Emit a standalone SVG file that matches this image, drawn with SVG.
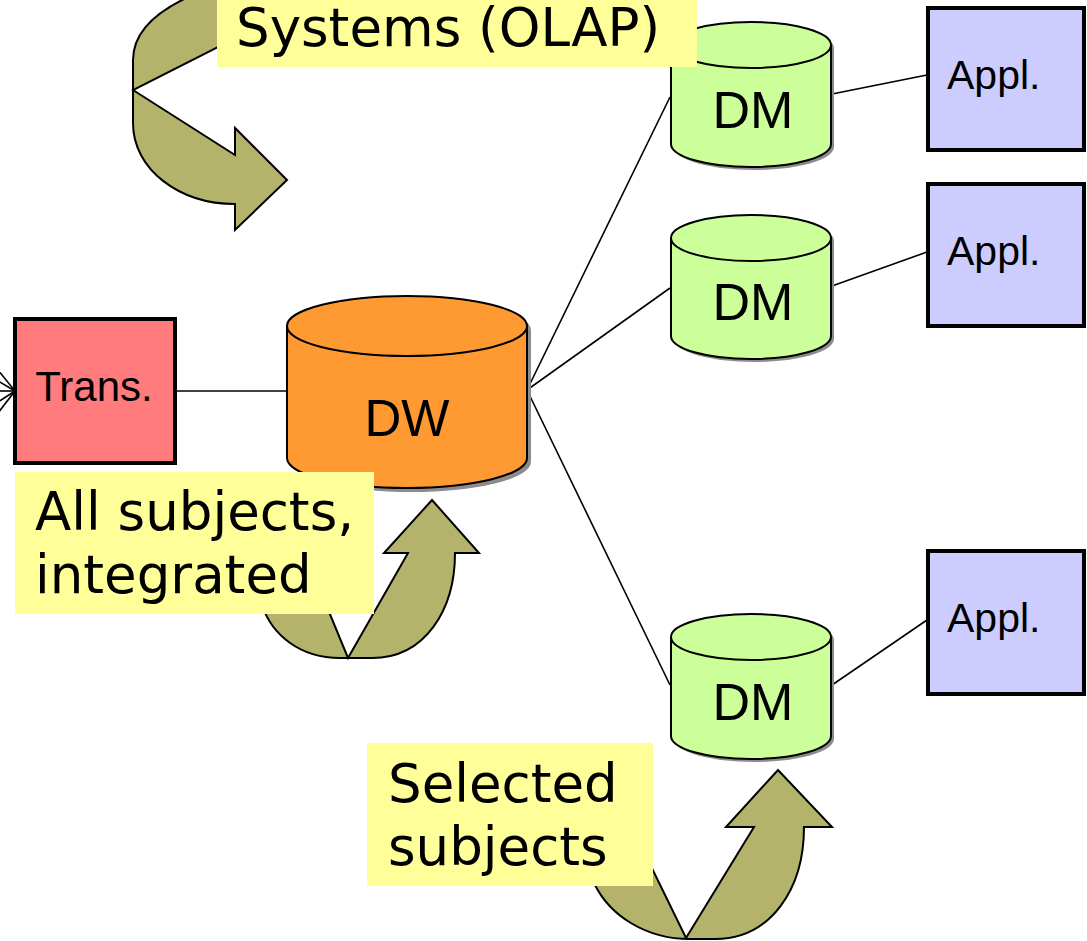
<svg xmlns="http://www.w3.org/2000/svg" width="1087" height="941" viewBox="0 0 1087 941">
<style>
.arrow{fill:#b3b36c;stroke:#000;stroke-width:2;stroke-linejoin:miter}
.box{stroke:#000;stroke-width:4}
.cyl{stroke:#000;stroke-width:2}
.shadow{fill:#8c8c8c;stroke:none}
.conn{stroke:#000;stroke-width:1.6;fill:none}
.ntext{font-family:"Liberation Sans",Arial,sans-serif;fill:#000}
.lbg{fill:#ffff99}
.ltext{font-family:"DejaVu Sans",sans-serif;font-size:53px;fill:#000}
</style>
<rect width="1087" height="941" fill="#fff"/>
<g id="arrows">
  <path class="arrow" d="M133,90 L235,155 L235,128 L287,180 L235,230 L235,204 C180,204 133,170 133,123 L133,60 C133,30 160,8 200,-8 L240,-8 L240,36 Z"/>
  <path class="arrow" d="M348,658 L408,553 L384,553 L432,500 L479,553 L455,553 C455,610 425,658 372,658 L340,658 C300,658 272,635 262,605 L256,585 L318,585 Z"/>
  <path class="arrow" d="M686,938 L754,827 L726,827 L778,770 L832,827 L804,827 C804,890 770,939 715,939 L690,939 C645,939 610,915 595,885 L590,870 L648,860 Z"/>
</g>
<g id="connectors">
  <line class="conn" x1="-2" y1="370" x2="15" y2="391"/>
  <line class="conn" x1="-2" y1="381" x2="15" y2="391"/>
  <line class="conn" x1="-2" y1="391" x2="15" y2="391"/>
  <line class="conn" x1="-2" y1="402" x2="15" y2="391"/>
  <line class="conn" x1="-2" y1="413" x2="15" y2="391"/>
  <line class="conn" x1="177" y1="391" x2="287" y2="391"/>
  <line class="conn" x1="527" y1="390" x2="670" y2="97"/>
  <line class="conn" x1="527" y1="390" x2="670" y2="288"/>
  <line class="conn" x1="527" y1="390" x2="670" y2="685"/>
  <line class="conn" x1="832" y1="94" x2="927" y2="75"/>
  <line class="conn" x1="832" y1="286" x2="927" y2="252"/>
  <line class="conn" x1="832" y1="685" x2="927" y2="620"/>
</g>
<g id="trans">
  <rect class="box" x="15" y="319" width="160" height="144" fill="#ff7b7d"/>
  <text class="ntext" x="94" y="401" font-size="42" text-anchor="middle">Trans.</text>
</g>
<g id="dw">
  <path class="shadow" d="M291,330 A120,30 0 0 1 531,330 L531,462 A120,30 0 0 1 291,462 Z"/>
  <path class="cyl" fill="#ff9a33" d="M287,326 A120,30 0 0 1 527,326 L527,458 A120,30 0 0 1 287,458 Z"/>
  <path class="cyl" fill="none" d="M287,326 A120,30 0 0 0 527,326"/>
  <text class="ntext" x="407" y="436" font-size="51" text-anchor="middle">DW</text>
</g>
<g id="dm1">
  <path class="shadow" d="M674,48 A80,23 0 0 1 834,48 L834,147 A80,23 0 0 1 674,147 Z"/>
  <path class="cyl" fill="#ccff99" d="M671,45 A80,23 0 0 1 831,45 L831,144 A80,23 0 0 1 671,144 Z"/>
  <path class="cyl" fill="none" d="M671,45 A80,23 0 0 0 831,45"/>
  <text class="ntext" x="753" y="128" font-size="52" text-anchor="middle">DM</text>
</g>
<g id="dm2">
  <path class="shadow" d="M674,241 A80,23 0 0 1 834,241 L834,339 A80,23 0 0 1 674,339 Z"/>
  <path class="cyl" fill="#ccff99" d="M671,238 A80,23 0 0 1 831,238 L831,336 A80,23 0 0 1 671,336 Z"/>
  <path class="cyl" fill="none" d="M671,238 A80,23 0 0 0 831,238"/>
  <text class="ntext" x="753" y="320" font-size="52" text-anchor="middle">DM</text>
</g>
<g id="dm3">
  <path class="shadow" d="M674,640 A80,23 0 0 1 834,640 L834,739 A80,23 0 0 1 674,739 Z"/>
  <path class="cyl" fill="#ccff99" d="M671,637 A80,23 0 0 1 831,637 L831,736 A80,23 0 0 1 671,736 Z"/>
  <path class="cyl" fill="none" d="M671,637 A80,23 0 0 0 831,637"/>
  <text class="ntext" x="753" y="720" font-size="52" text-anchor="middle">DM</text>
</g>
<g id="appl1">
  <rect class="box" x="928" y="8" width="156" height="142" fill="#ccccff"/>
  <text class="ntext" x="947" y="89" font-size="41">Appl.</text>
</g>
<g id="appl2">
  <rect class="box" x="928" y="184" width="156" height="142" fill="#ccccff"/>
  <text class="ntext" x="947" y="265" font-size="41">Appl.</text>
</g>
<g id="appl3">
  <rect class="box" x="928" y="551" width="156" height="143" fill="#ccccff"/>
  <text class="ntext" x="947" y="632" font-size="41">Appl.</text>
</g>
<g id="label-olap">
  <rect class="lbg" x="217" y="-5" width="480" height="72"/>
  <text class="ltext" x="236" y="46">Systems (OLAP)</text>
</g>
<g id="label-all">
  <rect class="lbg" x="15" y="472" width="359" height="142"/>
  <text class="ltext" x="35" y="530">All subjects,</text>
  <text class="ltext" x="35" y="593">integrated</text>
</g>
<g id="label-selected">
  <rect class="lbg" x="367" y="743" width="286" height="143"/>
  <text class="ltext" x="388" y="802">Selected</text>
  <text class="ltext" x="388" y="865">subjects</text>
</g>
</svg>
